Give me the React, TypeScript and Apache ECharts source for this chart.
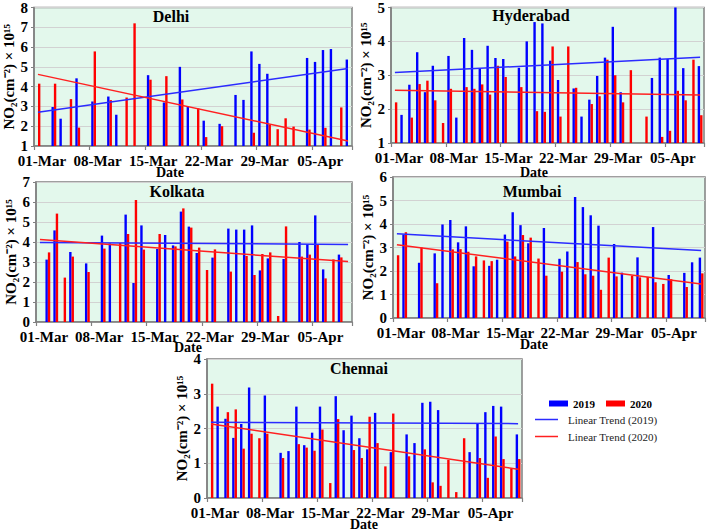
import React, { useEffect, useRef } from 'react';
import * as echarts from 'echarts';

const dates = [
  '01-Mar', '02-Mar', '03-Mar', '04-Mar', '05-Mar', '06-Mar', '07-Mar', '08-Mar', '09-Mar', '10-Mar',
  '11-Mar', '12-Mar', '13-Mar', '14-Mar', '15-Mar', '16-Mar', '17-Mar', '18-Mar', '19-Mar', '20-Mar',
  '21-Mar', '22-Mar', '23-Mar', '24-Mar', '25-Mar', '26-Mar', '27-Mar', '28-Mar', '29-Mar', '30-Mar',
  '31-Mar', '01-Apr', '02-Apr', '03-Apr', '04-Apr', '05-Apr', '06-Apr', '07-Apr', '08-Apr', '09-Apr',
];

const _ = null;

const delhi2019 = [_, _, 2.97, 2.38, _, 4.42, _, 3.25, _, 3.5, 2.58, _, _, _, 4.58, _, 3.2, _, 5.0, 3.0,
  _, 2.28, _, 2.12, _, 3.58, 3.33, 5.78, 5.15, 4.65, _, _, _, _, 5.45, 5.25, 5.85, 5.9, _, 5.37];
const delhi2020 = [4.15, _, 4.15, _, 3.37, 1.93, _, 5.78, _, 3.32, _, 3.45, 7.2, _, 4.35, _, 4.53, _, 3.35, _,
  2.9, 1.45, _, 2.0, _, _, _, 1.67, _, 2.08, 1.85, 2.4, 1.98, _, 1.83, _, 1.92, _, 2.95, _];

const hyderabad2019 = [_, 1.83, 2.72, 3.68, 2.5, 3.28, _, 3.57, 1.75, 4.1, 3.75, 3.2, 3.87, 3.51, 3.48, _, 3.22, 4.0, 4.57, 4.53,
  3.43, 2.86, _, 2.61, 1.78, 2.28, 2.98, 3.52, 4.43, 2.5, _, _, _, 2.92, 3.52, 3.48, 5.0, 3.21, _, 3.27];
const hyderabad2020 = [2.2, _, 1.75, 2.74, 2.84, 2.26, 1.59, 2.6, _, 2.65, 2.6, 2.73, 2.43, 3.28, 2.95, _, 2.65, _, 1.94, 1.92,
  3.85, 1.78, 3.85, 2.63, _, 2.15, 2.38, 3.46, 3.0, 2.2, 3.15, _, 1.78, _, 1.18, 1.36, 2.54, 2.26, 3.46, 1.82];

const kolkata2019 = [_, 3.12, 4.58, _, 3.5, _, 2.93, _, 4.32, 3.93, _, 5.37, 1.95, 4.83, _, 3.65, 4.35, 3.83, 5.52, 4.77,
  3.45, _, 3.22, _, 4.67, 4.62, 4.62, 4.83, 2.58, 3.18, _, 3.15, _, 4.0, 3.9, 5.33, 2.63, _, 3.37, _];
const kolkata2020 = [_, 3.48, 5.42, 2.22, 3.27, _, 2.5, _, 3.67, _, 3.95, 4.4, 6.1, 3.62, _, 4.4, _, 3.78, 5.68, 4.72,
  3.72, 2.6, 3.63, _, 2.52, _, 3.3, 2.35, 3.4, 3.48, 0.3, 4.78, _, 3.27, 3.37, 3.88, 2.18, 3.13, 3.23, _];

const mumbai2019 = [_, 3.55, _, 2.35, _, 2.75, 3.98, 4.17, 3.22, 3.9, 2.2, _, 2.22, 2.48, 3.55, 4.5, 3.95, 3.18, _, 3.83,
  _, 2.52, 2.83, 5.15, 4.72, 4.37, 3.93, _, 3.15, 1.93, _, 2.58, _, 3.87, _, 1.83, _, 1.92, 2.37, 2.57];
const mumbai2020 = [2.67, 3.65, _, 3.0, _, 1.48, _, 2.92, 2.93, 2.82, 2.62, 2.45, 2.42, _, 3.25, 2.62, 3.53, 3.42, 2.53, 1.8,
  _, 1.97, _, 2.38, 1.86, 1.8, 1.2, 2.57, 1.77, _, 1.8, 1.73, 1.75, 1.52, 1.45, 1.65, _, 1.32, _, 1.9];

const chennai2019 = [_, 2.63, 2.28, 1.73, 2.13, 3.18, _, 2.95, _, 1.3, 1.35, 2.63, 1.52, 1.88, 2.63, _, 2.93, 1.95, 2.37, 1.72,
  1.4, 2.45, _, 1.32, _, 1.83, 1.58, 2.74, 2.77, 2.53, _, _, _, 1.32, 2.13, 2.47, 2.65, 2.63, _, 1.83];
const chennai2020 = [3.29, _, 2.47, 2.55, 1.42, 1.85, 1.72, 1.85, _, 1.15, _, 1.55, 1.45, 1.36, 1.97, 0.43, 2.27, _, 1.38, 1.15,
  2.34, 1.58, 0.91, 2.43, _, 1.2, _, 1.4, 0.45, 0.35, 1.1, 0.17, 1.72, _, 1.15, 0.58, 1.77, 1.12, 0.85, 1.12];

// Linear trend end points [first day, last day]
const trendDelhi2019 = [2.7, 4.92];
const trendDelhi2020 = [4.62, 1.25];
const trendHyderabad2019 = [3.08, 3.53];
const trendHyderabad2020 = [2.56, 2.42];
const trendKolkata2019 = [3.98, 3.88];
const trendKolkata2020 = [4.12, 3.02];
const trendMumbai2019 = [3.58, 2.87];
const trendMumbai2020 = [3.12, 1.45];
const trendChennai2019 = [2.18, 2.14];
const trendChennai2020 = [2.13, 0.83];

const cityNames = ['Delhi', 'Hyderabad', 'Kolkata', 'Mumbai', 'Chennai'];
const yRanges = [[1, 8], [1, 5], [0, 7], [0, 6], [0, 4]];
const bars2019 = [delhi2019, hyderabad2019, kolkata2019, mumbai2019, chennai2019];
const bars2020 = [delhi2020, hyderabad2020, kolkata2020, mumbai2020, chennai2020];
const trends2019 = [trendDelhi2019, trendHyderabad2019, trendKolkata2019, trendMumbai2019, trendChennai2019];
const trends2020 = [trendDelhi2020, trendHyderabad2020, trendKolkata2020, trendMumbai2020, trendChennai2020];

// layout (pixels)
const layouts = [
  { left: 34, top: 5, width: 318, height: 141, title: [171, 16], date: [170, 172] },
  { left: 391, top: 6, width: 313, height: 137, title: [531, 15], date: [534, 172] },
  { left: 36, top: 182, width: 316, height: 140, title: [177, 191], date: [188, 347] },
  { left: 393, top: 177, width: 312, height: 141, title: [532, 191], date: [534, 344] },
  { left: 207, top: 359, width: 315, height: 139, title: [359, 368], date: [364, 524] },
];

const FONT = '"Liberation Serif", "Times New Roman", serif';
const BLUE = '#0000ff';
const RED = '#ff0000';
const TBLUE = '#2b2bff';
const TRED = '#ff2020';
const AXIS = '#808080';
const BG = '#e3f8ec';

const trendData = (t: number[]) => dates.map((_d, i) => (i === 0 ? t[0] : i === dates.length - 1 ? t[1] : null));

export default function App() {
  const ref = useRef<HTMLDivElement>(null);
  useEffect(() => {
    if (!ref.current) return;
    const chart = echarts.init(ref.current, undefined, { renderer: 'svg' });
    const grid = layouts.map((l) => ({
      left: l.left, top: l.top, width: l.width, height: l.height,
      show: true, backgroundColor: BG, borderColor: AXIS, borderWidth: 1.5,
    }));
    const xAxis = layouts.map((_l, i) => ({
      type: 'category', gridIndex: i, data: dates, boundaryGap: true,
      axisLine: { show: true, lineStyle: { color: AXIS, width: 1.5 } },
      axisTick: { show: true, interval: 6, length: 4, lineStyle: { color: AXIS, width: 1.2 } },
      axisLabel: {
        interval: 6, fontSize: 15, fontWeight: 'bold', fontFamily: FONT, color: '#000',
        margin: 7, padding: [0, 0, 0, 8],
      },
      splitLine: { show: false },
    }));
    const yAxis = layouts.map((_l, i) => ({
      type: 'value', gridIndex: i, min: yRanges[i][0], max: yRanges[i][1], interval: 1,
      name: 'NO\u2082(cm\u207B\u00B2) \u00D7 10\u00B9\u2075', nameLocation: 'middle', nameRotate: 90, nameGap: 16,
      nameTextStyle: { fontSize: 15, fontWeight: 'bold', fontFamily: FONT, color: '#000' },
      axisLine: { show: true, lineStyle: { color: AXIS, width: 1.5 } },
      axisTick: { show: true, length: 3, lineStyle: { color: AXIS } },
      axisLabel: { fontSize: 15, fontWeight: 'bold', fontFamily: FONT, color: '#000', margin: 6 },
      splitLine: { show: true, lineStyle: { color: '#d2d2d2', width: 1 } },
    }));
    const series: any[] = [];
    layouts.forEach((_l, i) => {
      series.push({
        type: 'bar', name: '2019', xAxisIndex: i, yAxisIndex: i, data: bars2019[i],
        barWidth: 2.4, barGap: '0%', itemStyle: { color: BLUE },
      });
      series.push({
        type: 'bar', name: '2020', xAxisIndex: i, yAxisIndex: i, data: bars2020[i],
        barWidth: 2.4, barGap: '0%', itemStyle: { color: RED },
      });
      series.push({
        type: 'line', name: 'Linear Trend (2019)', xAxisIndex: i, yAxisIndex: i, data: trendData(trends2019[i]),
        connectNulls: true, symbol: 'none', z: 5,
        lineStyle: { color: TBLUE, width: 1.5 }, itemStyle: { color: TBLUE },
      });
      series.push({
        type: 'line', name: 'Linear Trend (2020)', xAxisIndex: i, yAxisIndex: i, data: trendData(trends2020[i]),
        connectNulls: true, symbol: 'none', z: 5,
        lineStyle: { color: TRED, width: 1.5 }, itemStyle: { color: TRED },
      });
    });
    const graphic: any[] = [];
    layouts.forEach((l, i) => {
      graphic.push({
        type: 'text', x: l.title[0], y: l.title[1], z: 10,
        style: { text: cityNames[i], fontSize: 16, fontWeight: 'bold', fontFamily: FONT, fill: '#000', align: 'center', verticalAlign: 'middle' },
      });
      graphic.push({
        type: 'text', x: l.date[0], y: l.date[1], z: 10,
        style: { text: 'Date', fontSize: 14, fontWeight: 'bold', fontFamily: FONT, fill: '#000', align: 'center', verticalAlign: 'middle' },
      });
    });
    chart.setOption({
      animation: false,
      grid, xAxis, yAxis, series, graphic,
      legend: [
        {
          data: [{ name: '2019', icon: 'rect' }, { name: '2020', icon: 'rect' }],
          left: 549, top: 397, padding: 0, itemWidth: 19, itemHeight: 6, itemGap: 11,
          textStyle: { fontSize: 11, fontWeight: 'bold', fontFamily: FONT, color: '#000', lineHeight: 13 },
        },
        {
          data: ['Linear Trend (2019)', 'Linear Trend (2020)'], orient: 'vertical',
          left: 535, top: 413, padding: 0, icon: 'rect', itemWidth: 23, itemHeight: 1.5, itemGap: 4,
          textStyle: { fontSize: 11, fontFamily: FONT, color: '#222', padding: [0, 0, 0, 5], lineHeight: 13 },
        },
      ],
    });
    return () => chart.dispose();
  }, []);
  return <div ref={ref} style={{ position: 'fixed', left: 0, top: 0, width: 708, height: 531, background: '#fff' }} />;
}
